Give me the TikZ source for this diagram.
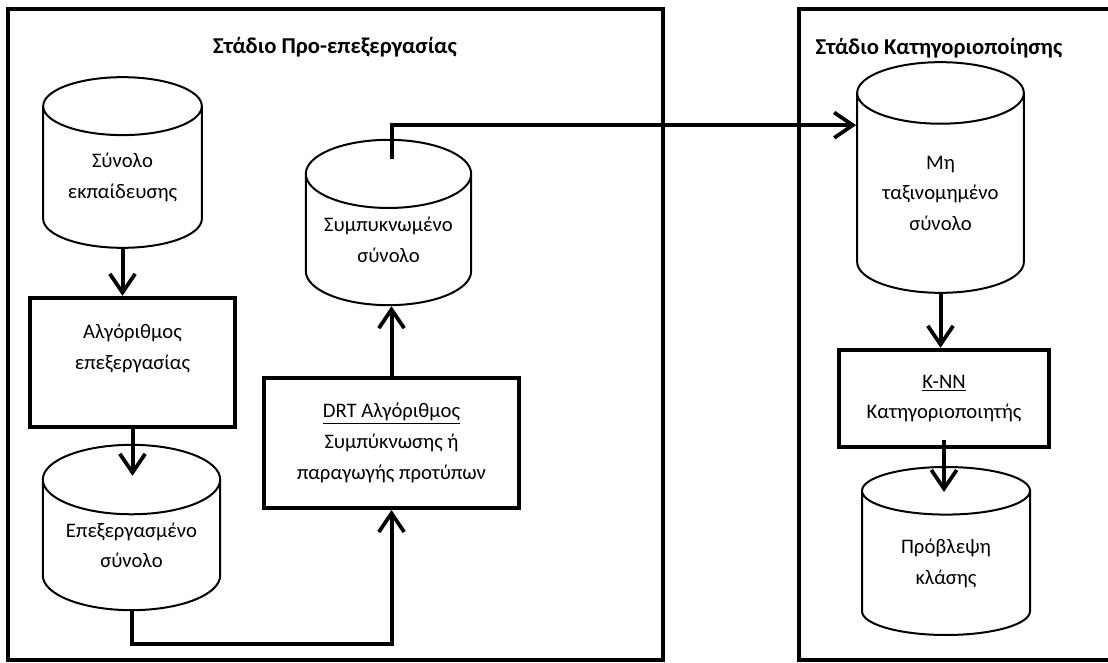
\documentclass[tikz,border=0pt]{standalone}
\usepackage{fontspec}
\setmainfont{Carlito}
\usepackage{tikz}
\usetikzlibrary{arrows.meta}
\usetikzlibrary{shapes.geometric, positioning, calc}
\tikzstyle{flowarrow} = [line width=3pt,-{Straight Barb[length=14pt,width=19pt,line width=2.8pt]}]
\tikzset{
datacyl/.style={shape=cylinder,draw,shape border rotate=90,aspect=0.53,line width=1.5pt,align=center,inner sep=0pt,anchor=shape center},
procbox/.style={draw,line width=3pt,align=center,inner sep=0pt},
stageframe/.style={draw,line width=3.2pt},
stagetitle/.style={font=\fontsize{17}{20}\selectfont\bfseries}
}

\begin{document}
\begin{tikzpicture}[x=0.75pt,y=-0.75pt,font=\fontsize{15.5}{23}\selectfont]
\useasboundingbox (0,0) rectangle (1108,663);
\clip (0,0) rectangle (1108,663);
%----------------------------------------------------------------------------
% Stage frames
\draw[stageframe] (8,9) rectangle (663,660);
\draw[stageframe] (799,9) rectangle (1130,660);
\node (preTitle) [stagetitle] at (335,47) {Στάδιο Προ-επεξεργασίας};
\node (clsTitle) [stagetitle,anchor=west] at (811,48) {Στάδιο Κατηγοριοποίησης};

%----------------------------------------------------------------------------
% Placement of flowcart nodes
\node (trainSet) [datacyl,minimum width=119pt,minimum height=128pt] at (122.5,162.5) {Σύνολο\\εκπαίδευσης};
\node (procAlg) [procbox,minimum width=154pt,minimum height=97pt,text depth=24pt] at (132.5,362.5) {Αλγόριθμος\\επεξεργασίας};
\node (procSet) [datacyl,minimum width=133pt,minimum height=124pt] at (131.5,527.5) {Επεξεργασμένο\\σύνολο};
\node (drtAlg) [procbox,minimum width=191pt,minimum height=97.5pt] at (391.5,443) {\underline{DRT Αλγόριθμος}\\Συμπύκνωσης ή\\παραγωγής προτύπων};
\node (condSet) [datacyl,minimum width=124pt,minimum height=124pt] at (388.5,222.5) {Συμπυκνωμένο\\σύνολο};
\node (testSet) [datacyl,minimum width=125pt,minimum height=173pt] at (940.5,177.5) {Μη\\ταξινομημένο\\σύνολο};
\node (knnAlg) [procbox,minimum width=157.5pt,minimum height=73pt] at (944,398.5) {\underline{K-NN}\\Κατηγοριοποιητής};
\node (predSet) [datacyl,minimum width=126pt,minimum height=126pt] at (946,551) {Πρόβλεψη\\κλάσης};
\coordinate (clsEntry) at ($(testSet.north)+(0,64)$);

%----------------------------------------------------------------------------
% Lines
\draw[flowarrow] (trainSet.south) -- (trainSet.south |- procAlg.north);
\draw[flowarrow] (procAlg.south) -- ($(procAlg.south |- procSet.north)+(0,32)$);
\draw[flowarrow] (procSet.south) -- ++(0,33) -| (drtAlg.south);
\draw[flowarrow] (drtAlg.north) -- (drtAlg.north |- condSet.south);
\draw[flowarrow] ($(condSet.north)+(3,20)$) |- (testSet.west |- clsEntry);
\draw[flowarrow] (testSet.south) -- (testSet.south |- knnAlg.north);
\draw[flowarrow] ($(knnAlg.south)+(0,-9)$) -- ($(knnAlg.south |- predSet.north)+(0,26)$);

\end{tikzpicture}
\end{document}
